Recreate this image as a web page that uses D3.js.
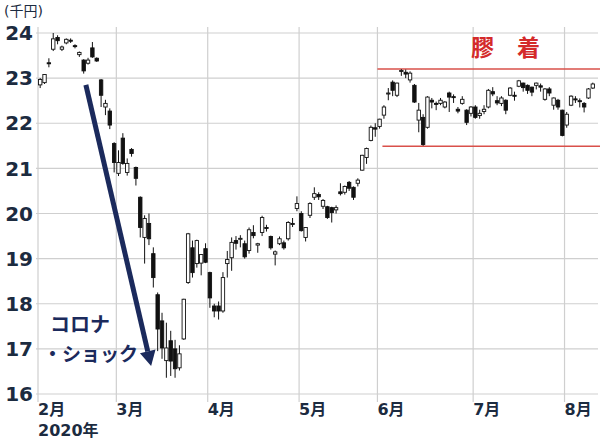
<!DOCTYPE html>
<html><head><meta charset="utf-8">
<script src="https://cdn.jsdelivr.net/npm/d3@7"></script>
<style>body{margin:0;background:#fff}svg{display:block}</style>
</head><body><svg id="c" width="600" height="440"></svg>
<script>
const dates = [
"02-03","02-04","02-05","02-06","02-07","02-10","02-12","02-13","02-14","02-17","02-18","02-19","02-20","02-21","02-25","02-26","02-27","02-28",
"03-02","03-03","03-04","03-05","03-06","03-09","03-10","03-11","03-12","03-13","03-16","03-17","03-18","03-19","03-23","03-24","03-25","03-26","03-27","03-30","03-31",
"04-01","04-02","04-03","04-06","04-07","04-08","04-09","04-10","04-13","04-14","04-15","04-16","04-17","04-20","04-21","04-22","04-23","04-24","04-27","04-28","04-30",
"05-01","05-07","05-08","05-11","05-12","05-13","05-14","05-15","05-18","05-19","05-20","05-21","05-22","05-25","05-26","05-27","05-28","05-29",
"06-01","06-02","06-03","06-04","06-05","06-08","06-09","06-10","06-11","06-12","06-15","06-16","06-17","06-18","06-19","06-22","06-23","06-24","06-25","06-26","06-29","06-30",
"07-01","07-02","07-03","07-06","07-07","07-08","07-09","07-10","07-13","07-14","07-15","07-16","07-17","07-20","07-21","07-22","07-27","07-28","07-29","07-30","07-31",
"08-03","08-04","08-05","08-06","08-07","08-11","08-12"];
const openV = [
22850,22900,23340,23640,23900,23640,23780,23840,23720,23520,23400,23330,23670,23440,22960,22360,22270,21550,
20890,21670,20910,21420,21020,20360,19470,19780,19110,18200,17620,16740,17180,17000,16580,17220,18470,19240,18890,18900,19220,
18690,17950,17950,17840,18890,19020,19400,19430,19330,19180,19580,19300,19580,19690,19490,19100,19330,19350,19440,19780,20110,
20000,19470,19960,20360,20420,20160,20150,20130,20080,20480,20470,20690,20580,20670,20960,21240,21620,21900,
21930,22180,22650,22910,22620,23150,23130,22960,22840,22070,22130,21910,22510,22440,22440,22360,22670,22590,22310,22440,22290,22220,
22360,22170,22260,22360,22700,22500,22440,22510,22620,22620,22820,22890,22840,22800,22840,22830,22530,22760,22400,22510,22290,
21960,22400,22540,22500,22440,22560,22780];
const highV = [
23000,23090,23440,24000,23950,23720,23880,23880,23750,23590,23420,23450,23800,23460,22980,22520,22330,21580,
21400,21780,21220,21450,21040,20380,19960,20000,19250,18250,17800,17580,17400,17200,17080,18110,19570,19400,19420,19100,19340,
18710,18000,18050,18700,19170,19470,19500,19520,19400,19690,19740,19350,19950,19750,19510,19180,19490,19400,19830,19900,20380,
20050,19700,20250,20580,20470,20320,20170,20150,20180,20670,20620,20720,20600,20780,21300,21460,21950,22000,
22100,22400,22780,22950,22900,23200,23190,23150,22870,22450,22200,22600,22560,22480,22560,22490,22700,22640,22360,22600,22310,22380,
22400,22300,22400,22760,22800,22600,22600,22530,22800,22700,22960,22900,22860,22810,22900,22880,22780,22800,22570,22540,22300,
22250,22620,22600,22550,22470,22780,22900];
const lowV = [
22780,22870,23240,23600,23750,23600,23750,23780,23660,23470,23100,23300,23450,23360,22360,22180,21870,20910,
20830,21080,20840,21260,20620,19470,18890,19300,18360,16950,16780,16360,16400,16360,16520,17200,18440,18580,18800,18630,18900,
17910,17700,17650,17800,18580,18730,19200,19250,19000,19110,19450,19130,19500,19600,19200,18850,19300,19200,19400,19700,20050,
19600,19380,19900,20300,20300,20100,19880,19800,20000,20400,20420,20500,20300,20600,20950,21100,21600,21700,
21880,22100,22510,22600,22580,23050,23000,22900,22450,21800,21500,21880,22330,22290,22400,22330,22250,22450,22220,22410,21960,22150,
22100,22100,22200,22330,22600,22400,22380,22200,22600,22500,22800,22700,22650,22600,22750,22700,22500,22600,22300,22300,21710,
21900,22380,22450,22350,22240,22540,22760];
const closeV = [
22970,23080,23330,23870,23830,23690,23860,23830,23700,23570,23160,23400,23470,23380,22620,22440,21960,21130,
21130,21110,21110,21330,20780,19690,19890,19440,18580,17440,17020,17020,16730,16560,16890,18100,19550,18690,19400,19090,18920,
18130,17840,17840,18580,18980,19360,19340,19450,19040,19640,19510,19330,19910,19680,19240,19150,19440,19240,19800,19770,20220,
19620,19690,20220,20440,20370,20290,19910,20020,20130,20440,20600,20560,20360,20740,21290,21440,21910,21870,
22090,22360,22670,22730,22890,23170,23090,23110,22470,22290,21530,22580,22470,22430,22510,22470,22580,22570,22270,22530,22020,22360,
22130,22220,22310,22730,22650,22450,22560,22290,22780,22600,22940,22790,22730,22690,22890,22800,22760,22670,22560,22360,21730,
22200,22600,22530,22490,22360,22760,22870];
const yTicks = [16000,17000,18000,19000,20000,21000,22000,23000,24000];
const monthStarts = ["02-03","03-02","04-01","05-01","06-01","07-01","08-03"];
const monthLabels = ["2月","3月","4月","5月","6月","7月","8月"];
const bandLevels = [23200, 21490];          // 膠着 range
const arrowFrom = {date:"02-19", v:22850};  // コロナ・ショック arrow
const arrowTo = {date:"03-12", v:16620};

const svg = d3.select("#c");
const x = d3.scaleBand().domain(dates).range([38, 595]).padding(0);
const y = d3.scaleLinear().domain([16000, 24000]).range([394, 33]);
const textCol = "#1c2b40";
const font = "'DejaVu Sans','Noto Sans CJK JP',sans-serif";
const right = 598;

// gridlines
svg.append("g").selectAll("line").data(yTicks).join("line")
  .attr("x1", 36).attr("x2", right).attr("y1", d=>y(d)).attr("y2", d=>y(d))
  .attr("stroke", "#cfcfcf").attr("stroke-width", 1.2);
svg.append("g").selectAll("line").data(monthStarts).join("line")
  .attr("x1", d=>x(d)).attr("x2", d=>x(d)).attr("y1", 27).attr("y2", 402)
  .attr("stroke", "#cfcfcf").attr("stroke-width", 1.2);

// y labels
svg.append("g").selectAll("text").data(yTicks).join("text")
  .attr("x", 33).attr("y", d=>y(d)).attr("dy","0.36em").attr("text-anchor","end")
  .attr("font-family", font).attr("font-weight","bold").attr("font-size", 20)
  .attr("fill", textCol).text(d=>d/1000);
svg.append("text").attr("x", 4).attr("y", 16).attr("font-family", font)
  .attr("font-size", 14).attr("fill", textCol).text("(千円)");

// x labels
svg.append("g").selectAll("text").data(monthStarts).join("text")
  .attr("x", d=>x(d)).attr("y", 415).attr("font-family", font).attr("font-weight","bold")
  .attr("font-size", 16).attr("fill", textCol).text((d,i)=>monthLabels[i]);
svg.append("text").attr("x", x(monthStarts[0])).attr("y", 436).attr("font-family", font)
  .attr("font-weight","bold").attr("font-size", 16).attr("fill", textCol).text("2020年");

// red band lines
const redCol = "#d9504a";
svg.append("line").attr("x1", x("06-01")).attr("x2", 600).attr("y1", y(bandLevels[0])).attr("y2", y(bandLevels[0]))
  .attr("stroke", redCol).attr("stroke-width", 1.5);
svg.append("line").attr("x1", x("06-01")+5).attr("x2", 600).attr("y1", y(bandLevels[1])).attr("y2", y(bandLevels[1]))
  .attr("stroke", redCol).attr("stroke-width", 1.5);
svg.append("text").attr("x", 471).attr("y", 56).attr("font-family", "'Noto Sans CJK JP',sans-serif")
  .attr("font-weight","bold").attr("font-size", 23).attr("fill", "#d42a2a").text("膠　着");

// candles
const data = dates.map((d,i)=>({d, o:openV[i], h:highV[i], l:lowV[i], c:closeV[i]}));
const bw = 3.4;
const g = svg.append("g");
const cx = d => x(d.d) + x.bandwidth()/2;
g.selectAll("line.w").data(data).join("line").attr("class","w")
  .attr("x1", cx).attr("x2", cx).attr("y1", d=>y(d.h)).attr("y2", d=>y(d.l))
  .attr("stroke", "#111").attr("stroke-width", 1);
g.selectAll("rect").data(data).join("rect")
  .attr("x", d=>cx(d)-bw/2).attr("width", bw)
  .attr("y", d=>y(Math.max(d.o,d.c)))
  .attr("height", d=>Math.max(1, Math.abs(y(d.o)-y(d.c))))
  .attr("fill", d=>d.c>=d.o ? "#fff" : "#111")
  .attr("stroke", "#111").attr("stroke-width", 0.9);

// arrow
const arrowCol = "#1b2a5c";
const ax1 = x(arrowFrom.date), ay1 = y(arrowFrom.v);
const ax2 = x(arrowTo.date), ay2 = y(arrowTo.v);
const ang = Math.atan2(ay2-ay1, ax2-ax1);
const headL = 15, headW = 8;
const bx = ax2 - headL*Math.cos(ang), by = ay2 - headL*Math.sin(ang);
svg.append("line").attr("x1", ax1).attr("y1", ay1).attr("x2", bx).attr("y2", by)
  .attr("stroke", arrowCol).attr("stroke-width", 5);
const px = -Math.sin(ang), py = Math.cos(ang);
svg.append("path").attr("d", d3.line()([[ax2,ay2],[bx+px*headW,by+py*headW],[bx-px*headW,by-py*headW]])+"Z")
  .attr("fill", arrowCol);

svg.append("text").attr("x", 50).attr("y", 332).attr("font-family", "'Noto Sans CJK JP',sans-serif")
  .attr("font-weight","bold").attr("font-size", 20).attr("fill", arrowCol).text("コロナ");
svg.append("text").attr("x", 43).attr("y", 361).attr("font-family", "'Noto Sans CJK JP',sans-serif")
  .attr("font-weight","bold").attr("font-size", 19).attr("fill", arrowCol).text("・ショック");
</script></body></html>
